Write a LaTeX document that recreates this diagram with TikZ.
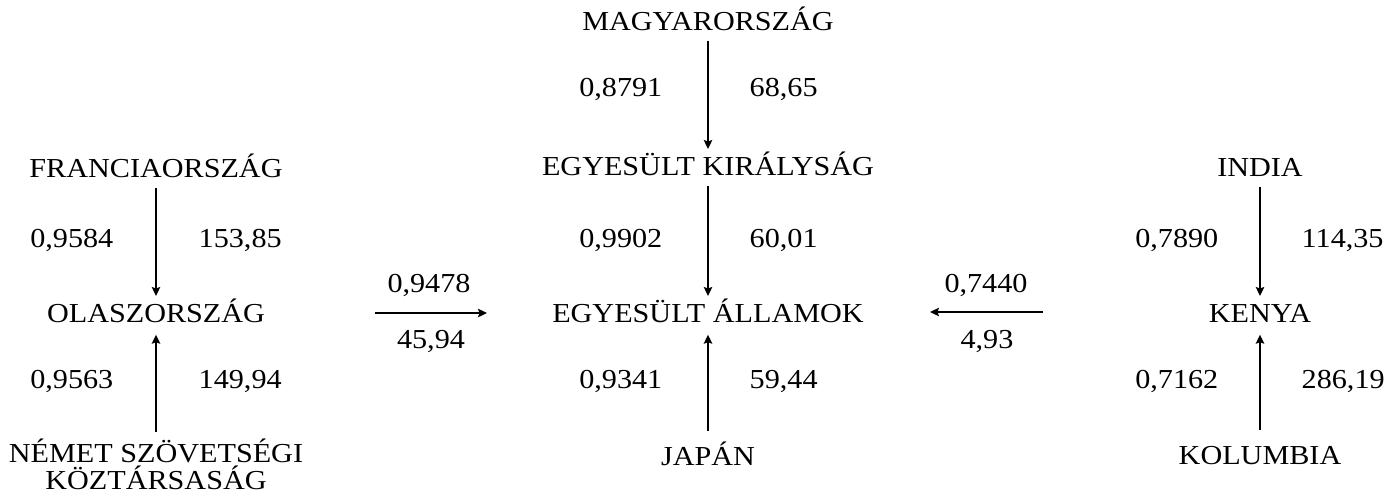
\documentclass[tikz,border=0pt]{standalone}
\usepackage{fontspec}
\setmainfont{Liberation Serif}[FakeStretch=1.1]
\usetikzlibrary{arrows.meta}
\tikzset{
  lbl/.style={inner sep=0pt, text height=5.2pt, text depth=0pt, anchor=base,
    font=\fontsize{7.8}{9}\selectfont},
  numl/.style={lbl, anchor=base east},
  numr/.style={lbl, anchor=base west},
  conn/.style={line width=0.42pt, -{Stealth[length=0.9mm, width=0.85mm, inset=0.15mm]}},
  down/.style={conn, shorten <=0.1cm, shorten >=0.07cm},
  up/.style={conn, shorten <=0.15cm, shorten >=0.12cm}
}
\begin{document}
\begin{tikzpicture}[x=0.01cm, y=-0.01cm]
\useasboundingbox (0,0) rectangle (1397,500);
% left column
\node[lbl] (francia) at (156,177) {FRANCIAORSZÁG};
\node[lbl] (olasz) at (156,322) {OLASZORSZÁG};
\node[lbl, align=center, anchor=north, text height=] (nemet) at (156,438) {NÉMET SZÖVETSÉGI\\[-1.3pt]\smash{KÖZTÁRSASÁG}};
\node[numl] (n1) at (114,247) {0,9584};
\node[numr] (n2) at (198,247) {153,85};
\node[numl] (n3) at (114,388) {0,9563};
\node[numr] (n4) at (198,388) {149,94};
\draw[down] (francia) -- (olasz);
\draw[up] ([yshift=-2.5pt]nemet.north) -- (olasz);
% center column
\node[lbl] (magyar) at (708,30) {MAGYARORSZÁG};
\node[lbl] (ek) at (708,175) {EGYESÜLT KIRÁLYSÁG};
\node[lbl] (ea) at (708,322) {EGYESÜLT ÁLLAMOK};
\node[lbl] (japan) at (708,465) {JAPÁN};
\node[numl] (n5) at (663,97) {0,8791};
\node[numr] (n6) at (749,97) {68,65};
\node[numl] (n7) at (663,247) {0,9902};
\node[numr] (n8) at (749,247) {60,01};
\node[numl] (n9) at (663,388) {0,9341};
\node[numr] (n10) at (749,388) {59,44};
\draw[down] (magyar) -- (ek);
\draw[down] (ek) -- (ea);
\draw[up] (japan) -- (ea);
% right column
\node[lbl] (india) at (1260,176) {INDIA};
\node[lbl] (kenya) at (1260,322) {KENYA};
\node[lbl] (kolumbia) at (1260,464) {KOLUMBIA};
\node[numl] (n11) at (1219,247) {0,7890};
\node[numr] (n12) at (1301,247) {114,35};
\node[numl] (n13) at (1219,388) {0,7162};
\node[numr] (n14) at (1301,388) {286,19};
\draw[down] (india) -- (kenya);
\draw[up] (kolumbia) -- (kenya);
% horizontal links
\coordinate (h1s) at (375,313);
\coordinate (h1e) at (487,313);
\coordinate (h2s) at (1043,312);
\coordinate (h2e) at (930,312);
\draw[conn] (h1s) -- (h1e);
\draw[conn] (h2s) -- (h2e);
\node[lbl] (l1) at (429,292) {0,9478};
\node[lbl] (l2) at (431,348) {45,94};
\node[lbl] (l3) at (986,292) {0,7440};
\node[lbl] (l4) at (987,348) {4,93};
\end{tikzpicture}
\end{document}
